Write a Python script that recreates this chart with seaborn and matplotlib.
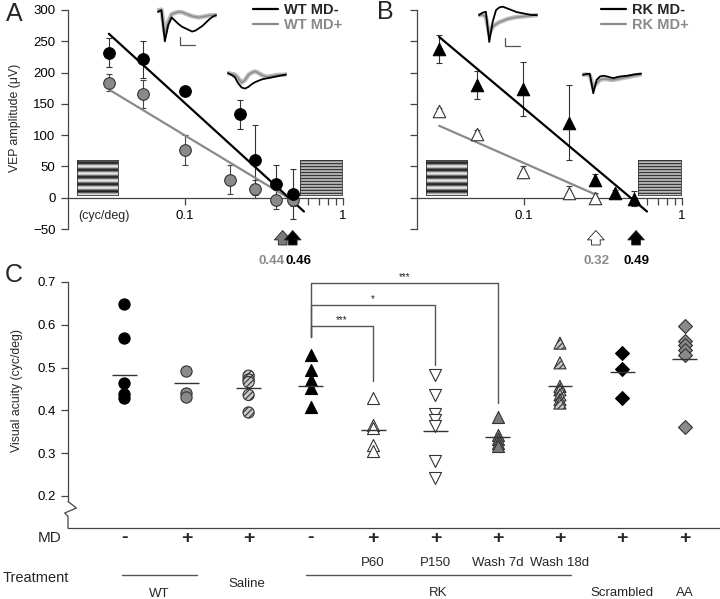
import numpy as np
import matplotlib
matplotlib.use("Agg")
import matplotlib.pyplot as plt
import matplotlib.transforms as mtransforms
from matplotlib.lines import Line2D
import seaborn as sns

sns.set_style("ticks")
plt.rcParams["font.family"] = ["Liberation Sans", "DejaVu Sans"]
plt.rcParams["axes.edgecolor"] = "#444444"
plt.rcParams["xtick.color"] = "#444444"
plt.rcParams["ytick.color"] = "#444444"
plt.rcParams["xtick.labelcolor"] = "black"
plt.rcParams["ytick.labelcolor"] = "black"
plt.rcParams["hatch.linewidth"] = 0.8

W, H = 720, 599
GRAY = "#8a8a8a"

# ---------------- panel A: WT, VEP amplitude vs spatial frequency
wt_sf_minus = [0.033, 0.054, 0.1, 0.223, 0.277, 0.377, 0.483]
wt_amp_minus = [232, 221, 171, 133, 61, 22, 6]
wt_err_minus = [23, 29, 4, 23, 56, 31, 40]
wt_sf_plus = [0.033, 0.054, 0.1, 0.193, 0.277, 0.377, 0.483]
wt_amp_plus = [184, 166, 76, 29, 14, -3, -3]
wt_err_plus = [14, 22, 24, 23, 14, 15, 10]
wt_fit_minus_x = [0.033, 0.566]
wt_fit_minus_y = [262, -22]
wt_fit_plus_x = [0.033, 0.47]
wt_fit_plus_y = [173, -3]
wt_acuity = [0.44, 0.46]          # MD+, MD-

# ---------------- panel B: RK
rk_sf_minus = [0.029, 0.0505, 0.099, 0.193, 0.281, 0.378, 0.495]
rk_amp_minus = [238, 180, 174, 120, 28, 7, -2]
rk_err_minus = [22, 22, 43, 60, 10, 5, 12]
rk_sf_plus = [0.029, 0.0505, 0.099, 0.193, 0.281]
rk_amp_plus = [138, 102, 41, 8, 0]
rk_err_plus = [5, 7, 10, 10, 8]
rk_fit_minus_x = [0.029, 0.6]
rk_fit_minus_y = [257, -22]
rk_fit_plus_x = [0.029, 0.29]
rk_fit_plus_y = [115, 4]
rk_acuity = [0.32, 0.49]          # MD+, MD-

# example VEP traces (arbitrary units)
a1_black = [0, 0.5, -9, -4, -1.7, -2.7, -3.7, -4.5, -5, -5.5, -6, -5.7, -5, -4.3, -3.3, -2.3, -1.5, -1]
a1_gray = [0.5, 0.7, -6.5, -3, -0.7, -0.3, 0, -0.1, -0.5, -0.9, -1.3, -1.5, -1.7, -1.5, -1.3, -1.1, -1, -1]
a2_black = [0, -0.5, -1.2, -3, -4.2, -4.5, -4, -3.2, -2.6, -2.2, -1.8, -1.6, -1.4, -1.2, -1, -0.8, -0.6, -0.4]
a2_gray = [0, -0.2, -0.4, -1.5, -2.8, -2, -0.5, 0.2, 0.5, 0, -0.6, -1, -1, -0.8, -0.6, -0.5, -0.5, -0.4]
b1_black = [0, 0.7, 1, -8, -2, 1.5, 2.3, 2.5, 2.1, 1.7, 1.3, 0.9, 0.7, 0.5, 0.3, 0.1, 0, 0]
b1_gray = [0, 0.1, -0.5, -5.5, -3.5, -2.7, -2.1, -1.7, -1.3, -1, -0.8, -0.6, -0.5, -0.4, -0.3, -0.2, -0.1, 0]
b2_black = [0, 0.2, 0.3, -5.5, -1.5, -0.5, -0.3, -0.5, -0.8, -1, -0.7, -0.5, -0.4, -0.3, -0.1, 0.1, 0.2, 0.3]
b2_gray = [0, 0.1, -0.3, -3.7, -2.5, -1.5, -1.3, -1.3, -1.5, -1.5, -1.3, -1.1, -0.9, -0.7, -0.5, -0.3, -0.1, 0.1]

# ---------------- panel C: visual acuity per group
c_md = ["-", "+", "+", "-", "+", "+", "+", "+", "+", "+"]
c_sub = ["", "", "", "", "P60", "P150", "Wash 7d", "Wash 18d", "", ""]
c_values = [
    [0.649, 0.569, 0.464, 0.439, 0.429],
    [0.491, 0.440, 0.432],
    [0.481, 0.472, 0.466, 0.436, 0.395],
    [0.530, 0.495, 0.470, 0.452, 0.408],
    [0.429, 0.366, 0.359, 0.320, 0.304],
    [0.483, 0.436, 0.392, 0.378, 0.364, 0.281, 0.242],
    [0.384, 0.343, 0.333, 0.324, 0.316],
    [0.557, 0.511, 0.456, 0.448, 0.436, 0.425, 0.417],
    [0.534, 0.497, 0.430],
    [0.598, 0.561, 0.552, 0.542, 0.530, 0.361],
]
c_means = [0.482, 0.464, 0.452, 0.458, 0.355, 0.352, 0.337, 0.457, 0.489, 0.521]
c_markers = ["o", "o", "o", "^", "^", "v", "^", "^", "D", "D"]
c_faces = ["black", GRAY, "#c8c8c8", "black", "white", "white", "#7a7a7a", "#c8c8c8", "black", GRAY]
c_hatch = [None, None, "//////", None, None, None, None, "//////", None, None]
c_sizes = [65, 65, 65, 75, 75, 75, 75, 75, 50, 50]
bracket_end = [4, 5, 6]
bracket_top = [0.598, 0.647, 0.698]
bracket_low = [0.4675, 0.507, 0.418]
bracket_text = ["***", "*", "***"]
treat_groups = ["WT", "Saline", "RK", "Scrambled", "AA"]
treat_xpos = [0.56, 1.97, 5.04, 8.0, 9.0]
treat_ypx = [594, 584, 593, 593, 593]
treat_lines = [(-0.04, 1.17), (2.92, 7.17)]


def fbox(x0, y0, x1, y1):
    return [x0 / W, 1 - y1 / H, (x1 - x0) / W, (y1 - y0) / H]


def fy(py):
    return 1 - py / H


fig = plt.figure(figsize=(7.2, 5.99), dpi=100)
axA = fig.add_axes(fbox(68, 10, 343, 229))
axB = fig.add_axes(fbox(417, 10, 682, 229))
axC = fig.add_axes(fbox(68, 282, 720, 528))


def grating(ax, bounds, cycles):
    ins = ax.inset_axes(bounds)
    y = np.linspace(0, 1, 120)
    img = np.tile((0.5 + 0.5 * np.cos(2 * np.pi * cycles * y))[:, None], (1, 4))
    ins.imshow(img, cmap="gray", aspect="auto", vmin=-0.15, vmax=1.1)
    ins.set_xticks([])
    ins.set_yticks([])
    for s in ins.spines.values():
        s.set_linewidth(0.6)
        s.set_color("#333333")


def vep_panel(ax, sfm, ampm, errm, sfp, ampp, errp, fmx, fmy, fpx, fpy,
              marker, plus_face, xmin, size):
    ax.set_xscale("log")
    ax.errorbar(sfp, ampp, yerr=errp, fmt="none", ecolor="#444444",
                elinewidth=0.8, capsize=2, capthick=0.8, zorder=2)
    ax.errorbar(sfm, ampm, yerr=errm, fmt="none", ecolor="#333333",
                elinewidth=0.8, capsize=2, capthick=0.8, zorder=2)
    sns.lineplot(x=fpx, y=fpy, ax=ax, color=GRAY, lw=1.6, zorder=3)
    sns.lineplot(x=fmx, y=fmy, ax=ax, color="black", lw=1.6, zorder=3)
    sns.scatterplot(x=sfp, y=ampp, ax=ax, marker=marker, s=size, color=plus_face,
                    edgecolor="#333333", linewidth=0.8, zorder=4)
    sns.scatterplot(x=sfm, y=ampm, ax=ax, marker=marker, s=size, color="black",
                    edgecolor="black", linewidth=0.8, zorder=5)
    ax.set_xlim(xmin, 1.0)
    ax.set_ylim(-50, 300)
    sns.despine(ax=ax)
    ax.spines["bottom"].set_position(("data", 0))
    ax.spines["left"].set_linewidth(0.9)
    ax.spines["bottom"].set_linewidth(0.9)
    ax.set_xticks([0.1, 1])
    ax.set_xticklabels(["0.1", "1"])
    ax.set_xticks([0.6, 0.7, 0.8, 0.9], minor=True)
    ax.xaxis.set_minor_formatter(plt.NullFormatter())
    ax.set_yticks(range(-50, 301, 50))
    ax.tick_params(axis="both", which="both", direction="out", length=5,
                   width=0.9, labelsize=9.5, pad=4)
    ax.set_xlabel("")
    ax.set_ylabel("")


vep_panel(axA, wt_sf_minus, wt_amp_minus, wt_err_minus, wt_sf_plus, wt_amp_plus,
          wt_err_plus, wt_fit_minus_x, wt_fit_minus_y, wt_fit_plus_x, wt_fit_plus_y,
          "o", GRAY, 0.0182, 70)
vep_panel(axB, rk_sf_minus, rk_amp_minus, rk_err_minus, rk_sf_plus, rk_amp_plus,
          rk_err_plus, rk_fit_minus_x, rk_fit_minus_y, rk_fit_plus_x, rk_fit_plus_y,
          "^", "white", 0.021, 80)
axB.set_yticklabels([])

blendA = mtransforms.blended_transform_factory(axA.transAxes, axA.transData)
axA.text(0.13, -30, "(cyc/deg)", transform=blendA, ha="center", va="center", fontsize=9)
fig.text(15 / W, fy(118), "VEP amplitude (\u03bcV)", rotation=90, ha="center",
         va="center", fontsize=8.8)

grating(axA, [0.033, 0.155, 0.149, 0.16], 5)
grating(axA, [0.844, 0.155, 0.152, 0.16], 12)
grating(axB, [0.034, 0.155, 0.155, 0.16], 5)
grating(axB, [0.834, 0.155, 0.162, 0.16], 12)

# legends
for ax, names, x0 in [(axA, ["WT MD-", "WT MD+"], 253), (axB, ["RK MD-", "RK MD+"], 601)]:
    handles = [Line2D([], [], color="black", lw=1.6), Line2D([], [], color=GRAY, lw=1.6)]
    leg = ax.legend(handles, names, loc="upper left", bbox_to_anchor=(x0 / W, fy(3)),
                    bbox_transform=fig.transFigure, frameon=False,
                    prop=dict(weight="bold", size=10.5), handlelength=1.7,
                    handletextpad=0.4, labelspacing=0.1, borderpad=0, borderaxespad=0)
    leg.get_texts()[1].set_color(GRAY)

# example traces
for box, blk, gry, ylim in [((157, 7, 217, 43), a1_black, a1_gray, (-9.5, 1.5)),
                            ((227, 68, 287, 92), a2_black, a2_gray, (-5.5, 1.5)),
                            ((478, 5, 538, 43), b1_black, b1_gray, (-8.3, 3)),
                            ((582, 69, 642, 96), b2_black, b2_gray, (-6.3, 1.7))]:
    ins = fig.add_axes(fbox(*box))
    t = np.arange(len(blk))
    ins.plot(t, gry, color="#bdbdbd", lw=3.2, solid_capstyle="round")
    ins.plot(t, gry, color="#8a8a8a", lw=1.0)
    ins.plot(t, blk, color="black", lw=1.3)
    ins.set_ylim(*ylim)
    ins.set_xlim(-0.3, len(blk) - 0.7)
    ins.axis("off")

for xv, y0, y1, x1 in [(180, 37, 45, 195), (505, 38, 46, 520)]:
    fig.add_artist(Line2D([xv / W, xv / W, x1 / W], [fy(y0), fy(y1), fy(y1)],
                          color="#555555", lw=0.9))

# acuity arrows
def acuity_arrows(ax, values, faces, dxs, label_px, label_colors):
    for v, face, dx, lx, lc in zip(values, faces, dxs, label_px, label_colors):
        tr = mtransforms.offset_copy(ax.transData, fig=fig, x=dx, y=0, units="dots")
        ax.annotate("", xy=(v, -48), xycoords=tr, xytext=(v, -80), textcoords=tr,
                    arrowprops=dict(arrowstyle="simple,head_length=0.45,head_width=0.8,tail_width=0.42",
                                    mutation_scale=15, fc=face, ec="#222222", lw=0.6),
                    annotation_clip=False)
        fig.text(lx / W, fy(261), f"{v:.2f}", ha="center", va="center",
                 fontsize=9.5, color=lc, weight="bold")


acuity_arrows(axA, wt_acuity, ["#7a7a7a", "black"], [-4, 3], [272, 299], [GRAY, "black"])
acuity_arrows(axB, rk_acuity, ["white", "black"], [-8, 3], [597, 636], [GRAY, "black"])

# ---------------- panel C
for i, vals in enumerate(c_values):
    kw = dict(hatch=c_hatch[i]) if c_hatch[i] else {}
    sns.scatterplot(x=[i] * len(vals), y=vals, ax=axC, marker=c_markers[i], s=c_sizes[i],
                    color=c_faces[i], edgecolor="#333333" if c_faces[i] != "black" else "black",
                    linewidth=0.8, zorder=3, legend=False, **kw)
pos = np.arange(len(c_values))
axC.hlines(c_means, pos - 0.2, pos + 0.2, color="#333333", lw=1.0, zorder=4)

axC.set_xlim(-0.9, 9.57)
axC.set_ylim(0.125, 0.7)
sns.despine(ax=axC)
axC.set_xticks([])
axC.set_yticks([0.2, 0.3, 0.4, 0.5, 0.6, 0.7])
axC.set_yticklabels(["0.2", "0.3", "0.4", "0.5", "0.6", "0.7"])
axC.tick_params(axis="y", direction="out", length=5, width=0.9, labelsize=9.5, pad=4)
axC.spines["left"].set_bounds(0.187, 0.7)
axC.spines["left"].set_linewidth(0.9)
axC.spines["bottom"].set_linewidth(0.9)
axC.set_xlabel("")
axC.set_ylabel("")
blendC = mtransforms.blended_transform_factory(axC.transAxes, axC.transData)
axC.plot([0, 0.0129, -0.0051, 0, 0], [0.187, 0.1717, 0.16, 0.1521, 0.125],
         transform=blendC, color="#444444", lw=0.9, clip_on=False)

for end, top, low, txt in zip(bracket_end, bracket_top, bracket_low, bracket_text):
    axC.plot([3, 3, end, end], [0.572, top, top, low], color="#555555", lw=1.0,
             clip_on=False, zorder=2)
    axC.text((3 + end) / 2, top + 0.014, txt, ha="center", va="center", fontsize=7)

fig.text(17 / W, fy(391), "Visual acuity (cyc/deg)", rotation=90, ha="center",
         va="center", fontsize=8.8)

tC = mtransforms.blended_transform_factory(axC.transData, fig.transFigure)
for i, s in enumerate(c_md):
    axC.text(i, fy(538), s, transform=tC, ha="center", va="center", fontsize=14, weight="bold")
    if c_sub[i]:
        axC.text(i, fy(563), c_sub[i], transform=tC, ha="center", va="center", fontsize=9.5)
for name, xp, ypx in zip(treat_groups, treat_xpos, treat_ypx):
    axC.text(xp, fy(ypx), name, transform=tC, ha="center", va="center", fontsize=9.5)
for x0, x1 in treat_lines:
    axC.plot([x0, x1], [fy(575), fy(575)], transform=tC, color="#555555", lw=1.0, clip_on=False)
fig.text(50 / W, fy(538), "MD", ha="center", va="center", fontsize=11)
fig.text(3 / W, fy(578), "Treatment", ha="left", va="center", fontsize=10.5)

for letter, xp, ypx in [("A", 14, 14), ("B", 385, 12), ("C", 14, 275)]:
    fig.text(xp / W, fy(ypx), letter, ha="center", va="center", fontsize=18)

fig.savefig("out.png", dpi=100)
